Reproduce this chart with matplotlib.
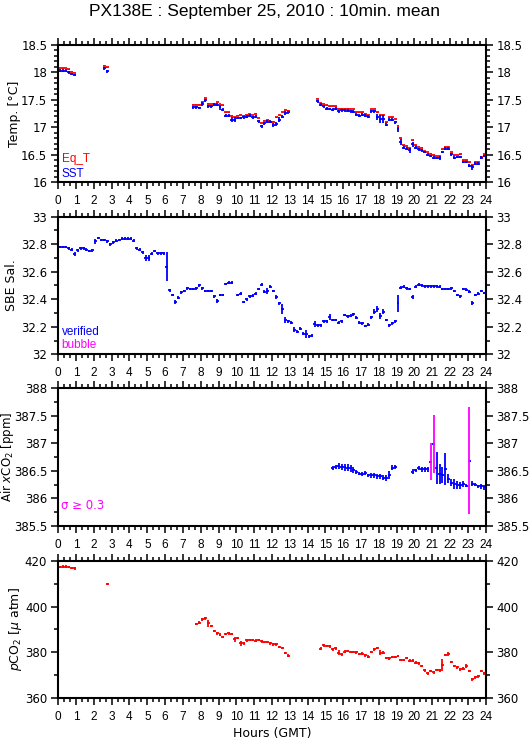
import matplotlib
matplotlib.use("Agg")
import matplotlib.pyplot as plt
from matplotlib.ticker import MultipleLocator, FuncFormatter
import numpy as np

BIN_H = 1.0 / 6.0  # 10-minute bins, in hours

# each series: list of (first 10-min bin index, values)
EQT_SEGS = [
    (0, [18.08, 18.07, 18.08, 18.05, 18.01, 17.99]),
    (15, [18.12, 18.09]),
    (45, [17.41, 17.41, 17.41, 17.46, 17.53, 17.43, 17.42, 17.43, 17.46, 17.42, 17.40,
          17.27, 17.27, 17.21, 17.19, 17.21, 17.22, 17.21, 17.22, 17.24, 17.22, 17.25,
          17.17, 17.08, 17.12, 17.13, 17.10, 17.10, 17.18, 17.22, 17.28, 17.31, 17.30]),
    (87, [17.51, 17.44, 17.42, 17.40, 17.38, 17.38, 17.38, 17.34, 17.34, 17.34,
          17.34, 17.33, 17.33, 17.27, 17.27, 17.27, 17.25, 17.22, 17.33, 17.33,
          17.27, 17.22, 17.22, 17.09, 17.18, 17.18, 17.15, 17.03, 16.80, 16.67,
          16.66, 16.62, 16.76, 16.67, 16.64, 16.63, 16.57, 16.55, 16.52, 16.49,
          16.48, 16.48, 16.60, 16.64, 16.64, 16.55, 16.49, 16.50, 16.51, 16.40,
          16.40, 16.36, 16.31, 16.37, 16.37, 16.46, 16.51]),
]
SST_SEGS = [
    (0, [18.03, 18.03, 18.03, 18.00, 17.97, 17.95]),
    (15, [18.07, 18.02]),
    (45, [17.36, 17.36, 17.35, 17.42, 17.49, 17.38, 17.38, 17.41, 17.41, 17.36, 17.32,
          17.21, 17.21, 17.14, 17.14, 17.17, 17.17, 17.18, 17.19, 17.21, 17.18, 17.19,
          17.11, 17.02, 17.07, 17.10, 17.10, 17.04, 17.06, 17.14, 17.19, 17.26, 17.27]),
    (87, [17.47, 17.41, 17.38, 17.34, 17.33, 17.32, 17.34, 17.29, 17.31, 17.31,
          17.30, 17.29, 17.28, 17.23, 17.21, 17.23, 17.21, 17.19, 17.29, 17.29,
          17.19, 17.15, 17.15, 17.05, 17.14, 17.14, 17.09, 16.96, 16.73, 16.63,
          16.61, 16.58, 16.69, 16.63, 16.60, 16.58, 16.55, 16.50, 16.48, 16.45,
          16.44, 16.44, 16.55, 16.61, 16.61, 16.51, 16.45, 16.46, 16.46, 16.37,
          16.37, 16.30, 16.27, 16.34, 16.34, 16.45, 16.48]),
]
SST_SD_DEFAULT = 0.025
SST_SD = {48: 0.04, 49: 0.03, 50: 0.03, 54: 0.04, 58: 0.04, 59: 0.04, 68: 0.03,
          72: 0.04, 73: 0.03, 74: 0.04, 75: 0.03, 76: 0.04,
          107: 0.06, 108: 0.08, 109: 0.08, 111: 0.03, 114: 0.05, 115: 0.06,
          118: 0.05, 119: 0.05, 128: 0.04, 139: 0.04, 140: 0.03}

SAL_SEGS = [
    (0, [32.78, 32.78, 32.78, 32.77, 32.76, 32.73, 32.755, 32.77, 32.77, 32.76, 32.75, 32.755,
         32.82, 32.845, 32.83, 32.83, 32.82, 32.80, 32.815, 32.825, 32.83, 32.84, 32.84, 32.84,
         32.84, 32.825, 32.77, 32.76, 32.74, 32.70, 32.70, 32.73, 32.75, 32.735, 32.735, 32.735,
         32.635, 32.465, 32.43, 32.38, 32.41, 32.45, 32.46, 32.48, 32.475, 32.475, 32.48, 32.50,
         32.48, 32.46, 32.46, 32.46, 32.42, 32.39, 32.43, 32.43, 32.51, 32.52, 32.52]),
    (60, [32.43, 32.44, 32.38, 32.40, 32.42, 32.425, 32.44, 32.475,
          32.505, 32.455, 32.46, 32.49, 32.46, 32.415, 32.37, 32.33, 32.25, 32.24, 32.23, 32.18,
          32.165, 32.185, 32.15, 32.15, 32.13, 32.135,
          32.22, 32.21, 32.21, 32.24, 32.24, 32.27, 32.25, 32.25, 32.23, 32.24, 32.285, 32.275,
          32.28, 32.29, 32.265, 32.23,
          32.225, 32.205, 32.215, 32.27, 32.31, 32.33, 32.28, 32.31, 32.25, 32.21, 32.225, 32.24,
          32.37,
          32.485, 32.49, 32.48, 32.475, 32.415, 32.49, 32.505, 32.50, 32.495, 32.495, 32.495,
          32.495, 32.495, 32.49, 32.475, 32.475, 32.475, 32.48, 32.46, 32.43, 32.42, 32.475,
          32.47, 32.455, 32.37, 32.43, 32.44, 32.46, 32.445]),
]
SAL_SD_DEFAULT = 0.01
SAL_SD = {5: 0.015, 12: 0.02, 29: 0.02, 30: 0.02, 36: 0.105, 39: 0.015, 53: 0.015,
          70: 0.02, 73: 0.015, 75: 0.035, 76: 0.02, 79: 0.015, 83: 0.03, 86: 0.02,
          91: 0.02, 106: 0.02, 107: 0.02, 108: 0.02, 109: 0.02, 114: 0.06, 119: 0.015,
          139: 0.015}

AIR_SEGS = [
    (92, [386.55, 386.57, 386.59, 386.57, 386.565, 386.56, 386.55, 386.52, 386.48, 386.45,
          386.45, 386.46, 386.42, 386.42, 386.42, 386.40, 386.40, 386.38, 386.37, 386.43,
          386.56, 386.57]),
    (119, [386.49, 386.51, 386.55, 386.53, 386.53, 386.53, 386.67, 386.99, 386.55, 386.44,
           386.43, 386.53, 386.36, 386.29, 386.27, 386.24, 386.24, 386.26, 386.23, 386.69,
           386.27, 386.25, 386.22, 386.22, 386.20]),
]
AIR_SD_SEGS = [
    (92, [0.04, 0.04, 0.05, 0.05, 0.06, 0.06, 0.06, 0.05, 0.04, 0.03, 0.04, 0.04, 0.03,
          0.05, 0.04, 0.04, 0.04, 0.05, 0.05, 0.07, 0.04, 0.03]),
    (119, [0.04, 0.03, 0.04, 0.04, 0.04, 0.04, 0.33, 0.53, 0.29, 0.18, 0.15, 0.29, 0.08,
           0.06, 0.09, 0.07, 0.06, 0.06, 0.03, 0.98, 0.04, 0.03, 0.03, 0.04, 0.04]),
]
AIR_SIGMA_FLAG = 0.3

PCO2_SEGS = [
    (0, [417.2, 417.4, 417.4, 417.3, 416.9, 416.6]),
    (16, [409.8]),
    (46, [392.4, 393.0, 394.4, 394.9, 392.7, 391.5, 389.3, 388.3, 387.7, 386.8, 388.0,
          388.3, 388.0, 385.7, 386.3, 383.9, 383.9, 385.2, 385.4, 385.4, 385.1, 385.4,
          384.8, 384.5, 384.5, 383.9, 383.5, 383.5, 382.4, 381.9, 379.7, 378.6]),
    (88, [381.6, 383.1, 382.9, 382.6, 381.3, 381.8, 379.9, 379.2, 380.3, 380.6, 380.2,
          380.2, 380.0, 379.4, 379.5, 378.7, 378.2, 380.2, 381.3, 381.9, 379.9, 379.9,
          377.6, 377.4, 378.1, 378.1, 378.4, 376.7, 376.7, 377.6, 376.4, 376.4, 375.5,
          375.2, 374.1, 372.2, 370.9, 371.8, 371.3, 372.3, 372.2, 374.7, 378.9, 379.2,
          375.8, 374.1, 373.5, 372.6, 372.9, 374.1, 371.8, 368.3, 369.1, 369.5, 371.8,
          370.9]),
]
PCO2_SD_DEFAULT = 0.55
PCO2_SD = {50: 1.5, 59: 1.2, 61: 0.9, 94: 1.2, 108: 1.0, 129: 2.6, 131: 0.8, 137: 1.0}

BLUE = "#0000ff"
RED = "#ff0000"
MAGENTA = "#ff00ff"


def unpack(segs):
    idx, vals = [], []
    for start, vs in segs:
        for k, v in enumerate(vs):
            idx.append(start + k)
            vals.append(v)
    idx = np.array(idx)
    return idx, (idx + 0.5) * BIN_H, np.array(vals)


def sd_for(idx, default, extra):
    return np.array([extra.get(i, default) for i in idx])


def draw(ax, t, v, sd, color, vcolor=None):
    ax.errorbar(t, v, xerr=BIN_H / 2, fmt="none", ecolor=color, elinewidth=1.3, capsize=0)
    ax.errorbar(t, v, yerr=sd, fmt="none", ecolor=vcolor if vcolor is not None else color,
                elinewidth=1.3, capsize=0)


def style(ax, ylim, major, minor):
    ax.set_xlim(0, 24)
    ax.set_ylim(*ylim)
    ax.xaxis.set_major_locator(MultipleLocator(1))
    ax.xaxis.set_minor_locator(MultipleLocator(1 / 3))
    ax.yaxis.set_major_locator(MultipleLocator(major))
    ax.yaxis.set_minor_locator(MultipleLocator(minor))
    ax.yaxis.set_major_formatter(FuncFormatter(lambda x, p: f"{x:g}"))
    ax.tick_params(which="both", direction="out", top=True, right=True, labelright=True,
                   width=1.1, colors="black")
    ax.tick_params(which="major", length=5)
    ax.tick_params(which="minor", length=3)
    ax.tick_params(axis="y", labelsize=8.5, pad=3)
    ax.tick_params(axis="x", labelsize=8.5, pad=4)
    for lab in ax.get_xticklabels():
        lab.set_fontfamily("Liberation Sans")
    for s in ax.spines.values():
        s.set_linewidth(1.5)


fig = plt.figure(figsize=(5.29, 7.39), dpi=100)
L, W, H = 0.1102, 0.8076, 0.1862
bottoms = [0.7533, 0.5206, 0.2882, 0.0551]
axes = [fig.add_axes([L, b, W, H]) for b in bottoms]

fig.text(0.5, 0.984, "PX138E : September 25, 2010 : 10min. mean", ha="center", va="center",
         fontsize=12.5, family="Liberation Sans")

# temperature
ax = axes[0]
i_e, t_e, v_e = unpack(EQT_SEGS)
i_s, t_s, v_s = unpack(SST_SEGS)
draw(ax, t_e, v_e, np.full(len(v_e), 0.005), RED)
draw(ax, t_s, v_s, sd_for(i_s, SST_SD_DEFAULT, SST_SD), BLUE)
style(ax, (16, 18.5), 0.5, 0.1)
ax.set_ylabel("Temp. [°C]", fontsize=9)
ax.yaxis.set_label_coords(-0.087, 0.5)
ax.text(0.008, 0.15, "Eq_T", color=RED, transform=ax.transAxes, fontsize=8.5,
        family="Liberation Sans")
ax.text(0.008, 0.04, "SST", color=BLUE, transform=ax.transAxes, fontsize=8.5,
        family="Liberation Sans")

# salinity
ax = axes[1]
i_sal, t_sal, v_sal = unpack(SAL_SEGS)
draw(ax, t_sal, v_sal, sd_for(i_sal, SAL_SD_DEFAULT, SAL_SD), BLUE)
style(ax, (32, 33), 0.2, 0.1)
ax.set_ylabel("SBE Sal.", fontsize=9)
ax.yaxis.set_label_coords(-0.094, 0.5)
ax.text(0.008, 0.14, "verified", color=BLUE, transform=ax.transAxes, fontsize=8.5,
        family="Liberation Sans")
ax.text(0.008, 0.045, "bubble", color=MAGENTA, transform=ax.transAxes, fontsize=8.5,
        family="Liberation Sans")

# air xCO2
ax = axes[2]
i_a, t_a, v_a = unpack(AIR_SEGS)
_, _, sd_a = unpack(AIR_SD_SEGS)
ok = sd_a < AIR_SIGMA_FLAG
ax.errorbar(t_a, v_a, xerr=BIN_H / 2, fmt="none", ecolor=BLUE, elinewidth=1.3, capsize=0)
ax.errorbar(t_a[ok], v_a[ok], yerr=sd_a[ok], fmt="none", ecolor=BLUE, elinewidth=1.3, capsize=0)
ax.errorbar(t_a[~ok], v_a[~ok], yerr=sd_a[~ok], fmt="none", ecolor=MAGENTA, elinewidth=1.3,
            capsize=0)
style(ax, (385.5, 388), 0.5, 0.25)
ax.set_ylabel(r"Air $x$CO$_2$ [ppm]", fontsize=8.5)
ax.yaxis.set_label_coords(-0.10, 0.5)
ax.text(0.006, 0.125, r"σ ≥ 0.3", color=MAGENTA, transform=ax.transAxes, fontsize=8.5,
        family="DejaVu Sans")

# pCO2
ax = axes[3]
i_p, t_p, v_p = unpack(PCO2_SEGS)
draw(ax, t_p, v_p, sd_for(i_p, PCO2_SD_DEFAULT, PCO2_SD), RED)
style(ax, (360, 420), 20, 10)
ax.set_ylabel(r"$p$CO$_2$ [$\mu$ atm]", fontsize=9)
ax.yaxis.set_label_coords(-0.08, 0.5)
ax.set_xlabel("Hours (GMT)", fontsize=9, labelpad=3)

fig.savefig("out.png", dpi=100)
